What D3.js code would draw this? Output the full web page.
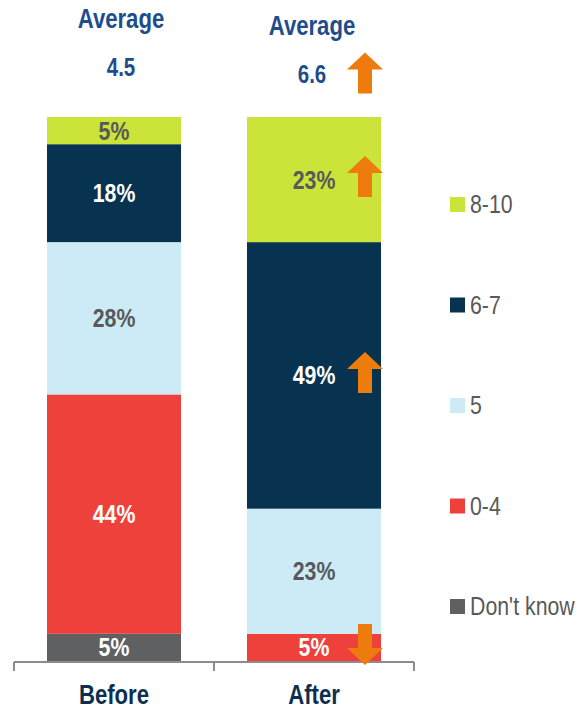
<!DOCTYPE html>
<html><head><meta charset="utf-8">
<script src="https://cdn.jsdelivr.net/npm/d3@7"></script>
<style>
html,body{margin:0;padding:0;background:#fff;}
svg{display:block;font-family:"Liberation Sans",Arial,sans-serif;}
</style></head>
<body><svg id="c" width="587" height="710"></svg>
<script>
const categories = ["Before", "After"];
const seriesNames = ["Don't know", "0-4", "5", "6-7", "8-10"];
const beforeValues = [5, 44, 28, 18, 5];
const afterValues = [0, 5, 23, 49, 23];
const averages = ["4.5", "6.6"];
const averageLabel = "Average";
const legendOrder = ["8-10", "6-7", "5", "0-4", "Don't know"];
// arrows: [category, series, direction]
const arrowNotes = [["After", "8-10", "up"], ["After", "6-7", "up"], ["After", "0-4", "down"]];
const averageArrow = ["After", "up"];

const colors = {"8-10":"#cce33a","6-7":"#083350","5":"#cdebf6","0-4":"#ee413b","Don't know":"#5f6062"};
const labelColors = {"8-10":"#58595b","6-7":"#ffffff","5":"#58595b","0-4":"#ffffff","Don't know":"#ffffff"};
const orange = "#ee7c0c";
const NARROW = 0.82;

const svg = d3.select("#c");
const x = d3.scaleBand().domain(categories).range([14, 414]).padding(0);
const y = d3.scaleLinear().domain([0, 100]).range([661, 117]);
const barW = x.bandwidth() * 0.67;

const rows = categories.map((c, i) => {
  const vals = i === 0 ? beforeValues : afterValues;
  const o = {cat: c};
  seriesNames.forEach((s, j) => o[s] = vals[j]);
  return o;
});
const stack = d3.stack().keys(seriesNames)(rows);

const segs = [];
stack.forEach(layer => layer.forEach(d => {
  if (d[1] - d[0] > 0) segs.push({key: layer.key, cat: d.data.cat, y0: d[0], y1: d[1], v: d[1] - d[0]});
}));

const cx = c => x(c) + x.bandwidth() / 2;
const place = (fx, fy) => (d, i) => `translate(${fx(d, i)},${fy(d, i)}) scale(${NARROW},1)`;

svg.append("g").selectAll("rect").data(segs).join("rect")
  .attr("x", d => cx(d.cat) - barW / 2)
  .attr("width", barW)
  .attr("y", d => y(d.y1))
  .attr("height", d => y(d.y0) - y(d.y1))
  .attr("fill", d => colors[d.key]);

svg.append("g").selectAll("text").data(segs).join("text")
  .attr("transform", place(d => cx(d.cat), d => (y(d.y0) + y(d.y1)) / 2 + 9))
  .attr("text-anchor", "middle")
  .attr("font-size", 26).attr("font-weight", "bold")
  .attr("fill", d => labelColors[d.key])
  .text(d => d.v + "%");

// axis
const axisG = svg.append("g").attr("transform", "translate(0,662)");
axisG.append("line").attr("x1", 14).attr("x2", 414).attr("stroke", "#8c8c8c").attr("stroke-width", 2);
const tickXs = categories.map(c => x(c)).concat([x(categories[categories.length - 1]) + x.bandwidth()]);
axisG.selectAll("line.t").data(tickXs).join("line").attr("class", "t")
  .attr("x1", d => d).attr("x2", d => d).attr("y1", 0).attr("y2", 9)
  .attr("stroke", "#8c8c8c").attr("stroke-width", 2);
axisG.selectAll("text").data(categories).join("text")
  .attr("transform", place(d => cx(d), () => 42))
  .attr("text-anchor", "middle").attr("font-size", 27).attr("font-weight", "bold")
  .attr("fill", "#0d2f4f").text(d => d);

// headers
const headDx = [7, -2], headY = [28, 35];
categories.forEach((c, i) => {
  svg.append("text").attr("transform", `translate(${cx(c) + headDx[i]},${headY[i]}) scale(${NARROW},1)`)
    .attr("text-anchor", "middle").attr("font-size", 27).attr("font-weight", "bold")
    .attr("fill", "#1e4d8c").text(averageLabel);
  svg.append("text").attr("transform", `translate(${cx(c) + headDx[i]},${headY[i] + 48}) scale(${NARROW},1)`)
    .attr("text-anchor", "middle").attr("font-size", 25).attr("font-weight", "bold")
    .attr("fill", "#1e4d8c").text(averages[i]);
});

function arrow(xc, yc, dir) {
  const w = 36, hh = 17, sw = 14, h = 41;
  const t = -h / 2;
  let pts = [[0, t], [w / 2, t + hh], [sw / 2, t + hh], [sw / 2, h / 2], [-sw / 2, h / 2], [-sw / 2, t + hh], [-w / 2, t + hh]];
  if (dir === "down") pts = pts.map(p => [p[0], -p[1]]);
  svg.append("polygon").attr("points", pts.map(p => (xc + p[0]) + "," + (yc + p[1])).join(" ")).attr("fill", orange);
}
arrowNotes.forEach(([c, s, dir]) => {
  const sg = segs.find(d => d.cat === c && d.key === s);
  arrow(cx(c) + 51, (y(sg.y0) + y(sg.y1)) / 2 - 3, dir);
});
{
  const i = categories.indexOf(averageArrow[0]);
  arrow(cx(averageArrow[0]) + 51, headY[i] + 38, averageArrow[1]);
}

// legend
const lg = svg.append("g").selectAll("g").data(legendOrder).join("g")
  .attr("transform", (d, i) => `translate(450,${197 + i * 100.5})`);
lg.append("rect").attr("width", 15).attr("height", 15).attr("fill", d => colors[d]);
lg.append("text").attr("transform", `translate(20,16) scale(${NARROW},1)`)
  .attr("font-size", 26).attr("fill", "#595959").text(d => d);
</script></body></html>
